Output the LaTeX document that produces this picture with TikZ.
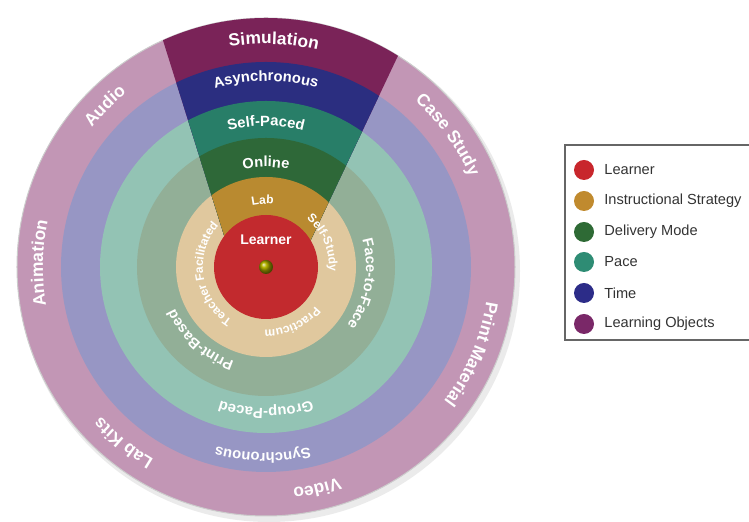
\documentclass[tikz,border=0pt]{standalone}
\usepackage{fontspec}
\setmainfont{Liberation Sans}
\usetikzlibrary{decorations.text}

\definecolor{objlight}{HTML}{C296B5}
\definecolor{timelight}{HTML}{9796C4}
\definecolor{pacelight}{HTML}{93C3B4}
\definecolor{modelight}{HTML}{92AF97}
\definecolor{stratlight}{HTML}{E0C89E}
\definecolor{objdark}{HTML}{7A2358}
\definecolor{timedark}{HTML}{2B2E80}
\definecolor{pacedark}{HTML}{287E68}
\definecolor{modedark}{HTML}{2E6838}
\definecolor{stratdark}{HTML}{B98A30}
\definecolor{learnred}{HTML}{C22A2E}
\definecolor{keyred}{HTML}{C8262C}
\definecolor{keygold}{HTML}{C08A2E}
\definecolor{keygreen}{HTML}{2E6A35}
\definecolor{keyteal}{HTML}{2E8C74}
\definecolor{keynavy}{HTML}{2C2C88}
\definecolor{keypurple}{HTML}{7A2868}

\newcommand\outerfont{\bfseries\fontsize{8.7}{9}\selectfont}
\newcommand\midfont{\bfseries\fontsize{7.4}{8}\selectfont}
\newcommand\modefont{\bfseries\fontsize{7.3}{8}\selectfont}
\newcommand\stratfont{\bfseries\fontsize{6}{6}\selectfont}
% text on a clockwise arc: centre angle, baseline radius, font, text
\newcommand\ringlabel[4]{\path[ringtext={#3}{#4}] (#1+89:#2) arc[start angle=#1+89, end angle=#1-89, radius=#2];}

\tikzset{
	ringtext/.style 2 args={decorate, decoration={text along path, text align=center, text color=white, text={|#1|#2}}},
	keydot/.style={circle, minimum size=10pt, inner sep=0pt, fill=#1},
	keytext/.style={anchor=west, inner sep=0pt, text=black!80, font=\fontsize{7.3}{8}\selectfont}
}

\begin{document}
\begin{tikzpicture}[x=0.5pt,y=0.5pt]
	\useasboundingbox (-266,-255) rectangle (483,267);
	% rings
	\fill[black!8] (3,-4) circle[radius=251];
	\fill[objlight] (0,0) circle[radius=249];
	\draw[black!20, line width=0.5pt] (0,0) circle[radius=249];
	\fill[timelight] (0,0) circle[radius=205];
	\fill[pacelight] (0,0) circle[radius=166];
	\fill[modelight] (0,0) circle[radius=129];
	\fill[stratlight] (0,0) circle[radius=90];
	% wedge
	\begin{scope}
		\clip (-32,0) -- (-126,300) -- (174,300) -- (32,0) -- cycle;
		\fill[objdark] (0,0) circle[radius=249];
		\fill[timedark] (0,0) circle[radius=205];
		\fill[pacedark] (0,0) circle[radius=166];
		\fill[modedark] (0,0) circle[radius=129];
		\fill[stratdark] (0,0) circle[radius=90];
	\end{scope}
	\fill[learnred] (0,0) circle[radius=52];
	\shade[ball color=olive!80!yellow] (0,0) circle[radius=7];
	\node[text=white, font=\bfseries\fontsize{7}{8}\selectfont] (learner) at (0,27) {Learner};
	% labels
	\ringlabel{88}{223}{\outerfont}{Simulation}
	\ringlabel{135}{223}{\outerfont}{Audio}
	\ringlabel{36}{223}{\outerfont}{Case Study}
	\ringlabel{-23}{223}{\outerfont}{Print Material}
	\ringlabel{179}{223}{\outerfont}{Animation}
	\ringlabel{-129}{223}{\outerfont}{Lab Kits}
	\ringlabel{-77}{223}{\outerfont}{Video}
	\ringlabel{90}{186}{\midfont}{Asynchronous}
	\ringlabel{-91}{186}{\midfont}{Synchronous}
	\ringlabel{90}{141}{\midfont}{Self-Paced}
	\ringlabel{-90}{141}{\midfont}{Group-Paced}
	\ringlabel{90}{100}{\modefont}{Online}
	\ringlabel{-10}{100}{\modefont}{Face-to-Face}
	\ringlabel{-132}{100}{\modefont}{Print-Based}
	\ringlabel{93}{63}{\stratfont}{Lab}
	\ringlabel{23}{63}{\stratfont}{Self-Study}
	\ringlabel{-65}{63}{\stratfont}{Practicum}
	\ringlabel{188}{63}{\stratfont}{Teacher Facilitated}
	% key
	\draw[black!60, line width=0.6pt] (483,122) -- (299,122) -- (299,-73) -- (483,-73);
	\node[keydot=keyred] (k1) at (318,97) {};
	\node[keydot=keygold] (k2) at (318,66) {};
	\node[keydot=keygreen] (k3) at (318,35) {};
	\node[keydot=keyteal] (k4) at (318,5) {};
	\node[keydot=keynavy] (k5) at (318,-26) {};
	\node[keydot=keypurple] (k6) at (318,-57) {};
	\node[keytext] (t1) at (338,97) {Learner};
	\node[keytext] (t2) at (338,66) {Instructional Strategy};
	\node[keytext] (t3) at (338,35) {Delivery Mode};
	\node[keytext] (t4) at (338,5) {Pace};
	\node[keytext] (t5) at (338,-26) {Time};
	\node[keytext] (t6) at (338,-57) {Learning Objects};
\end{tikzpicture}
\end{document}
